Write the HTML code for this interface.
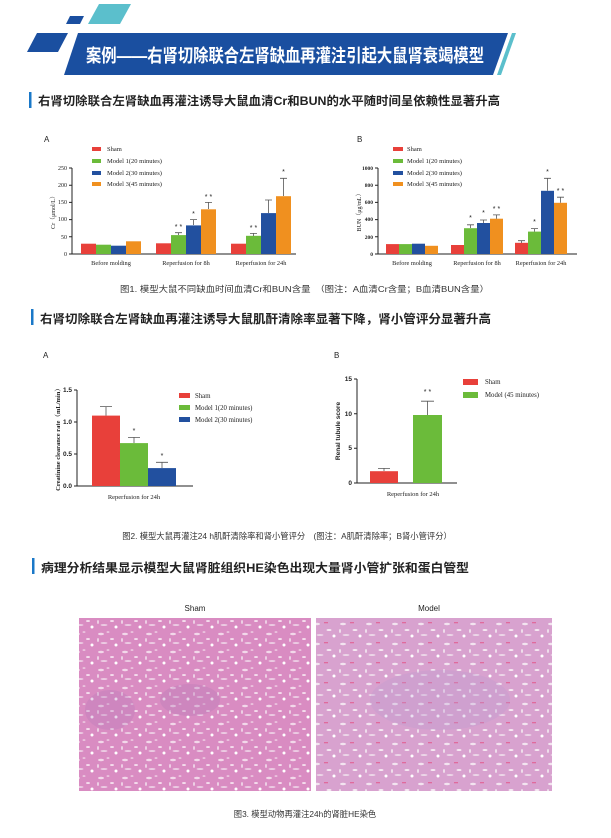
<!DOCTYPE html>
<html><head><meta charset="utf-8"><style>
body{margin:0;background:#fff;}
svg{display:block;}
text{font-family:"Liberation Sans","Noto Sans CJK SC",sans-serif;}
text.s,.s text{font-family:"Liberation Serif","Noto Serif CJK SC",serif;}
</style></head><body>
<svg width="611" height="838" viewBox="0 0 611 838" xmlns="http://www.w3.org/2000/svg">
<defs>
<pattern id="tis" width="24" height="18" patternUnits="userSpaceOnUse">
<rect width="24" height="18" fill="#d98cc2"/>
<ellipse cx="5" cy="4" rx="3" ry="1.2" fill="#f2d8ea"/>
<ellipse cx="16" cy="9" rx="2" ry="1" fill="#f4dcec"/>
<ellipse cx="8" cy="13" rx="3.5" ry="1" fill="#eccbe3"/>
<ellipse cx="20" cy="15" rx="1.5" ry="1.5" fill="#fff"/>
<ellipse cx="12" cy="2" rx="1.5" ry="0.8" fill="#f0d4e7"/>
<ellipse cx="2" cy="10" rx="1" ry="2" fill="#eed0e5"/>
</pattern>
<pattern id="tis2" width="26" height="20" patternUnits="userSpaceOnUse">
<rect width="26" height="20" fill="#d8a2cf"/>
<ellipse cx="5" cy="4" rx="3" ry="1.2" fill="#f3e4f0"/>
<ellipse cx="17" cy="10" rx="2.5" ry="1" fill="#f5e8f2"/>
<ellipse cx="8" cy="15" rx="3.5" ry="1" fill="#ecd6e8"/>
<ellipse cx="22" cy="16" rx="1.5" ry="1.5" fill="#fff"/>
<rect x="12" y="2" width="4" height="1.3" fill="#e06a9c"/>
<ellipse cx="2" cy="11" rx="1" ry="2" fill="#efdeec"/>
</pattern>
</defs>

<polygon points="88,24 99,4 131,4 120,24" fill="#5bbfcc"/>
<polygon points="66,24 70,16 84,16 80,24" fill="#1a4fa0"/>
<polygon points="27,52 37,33 68,33 58,52" fill="#1a4fa0"/>
<polygon points="64,75 78,33 508,33 493,75" fill="#1a4fa0"/>
<polygon points="497,75 512,33 516,33 501,75" fill="#5bbfcc"/>
<text x="86" y="62" font-size="18" font-weight="bold" fill="#fff" textLength="398" lengthAdjust="spacingAndGlyphs">案例——右肾切除联合左肾缺血再灌注引起大鼠肾衰竭模型</text>

<rect x="29" y="92" width="2.5" height="16" fill="#1a78c8"/>
<text x="38" y="105" font-size="12" font-weight="bold" fill="#222" textLength="462" lengthAdjust="spacingAndGlyphs">右肾切除联合左肾缺血再灌注诱导大鼠血清Cr和BUN的水平随时间呈依赖性显著升高</text>
<rect x="31" y="309" width="2.5" height="16" fill="#1a78c8"/>
<text x="40" y="323" font-size="12" font-weight="bold" fill="#222" textLength="451" lengthAdjust="spacingAndGlyphs">右肾切除联合左肾缺血再灌注诱导大鼠肌酐清除率显著下降，肾小管评分显著升高</text>
<rect x="32" y="558" width="2.5" height="16" fill="#1a78c8"/>
<text x="41" y="572" font-size="12" font-weight="bold" fill="#222" textLength="428" lengthAdjust="spacingAndGlyphs">病理分析结果显示模型大鼠肾脏组织HE染色出现大量肾小管扩张和蛋白管型</text>

<text x="44" y="142" font-size="8" fill="#222">A</text>
<g class="s" font-size="6.5" fill="#222">
<rect x="92" y="147" width="9" height="4" fill="#e8403a"/><text x="107" y="151">Sham</text>
<rect x="92" y="159" width="9" height="4" fill="#6bbb3a"/><text x="107" y="163">Model 1(20 minutes)</text>
<rect x="92" y="171" width="9" height="4" fill="#22509f"/><text x="107" y="175">Model 2(30 minutes)</text>
<rect x="92" y="182" width="9" height="4" fill="#f0901f"/><text x="107" y="186">Model 3(45 minutes)</text>
</g>
<g stroke="#222" stroke-width="1" fill="none">
<path d="M72,168 V254 H296"/>
<path d="M69,168H72M69,185.2H72M69,202.4H72M69,219.6H72M69,236.8H72M69,254H72"/>
</g>
<g font-size="6" class="s" text-anchor="end" fill="#222">
<text x="67" y="170">250</text><text x="67" y="187">200</text><text x="67" y="204">150</text><text x="67" y="221">100</text><text x="67" y="239">50</text><text x="67" y="256">0</text>
</g>
<text class="s" font-size="6" fill="#222" transform="translate(55,211) rotate(-90)" text-anchor="middle">Cr（μmol/L）</text>
<g>
<rect x="81" y="243.7" width="15" height="10.3" fill="#e8403a"/>
<rect x="96" y="244.7" width="15" height="9.3" fill="#6bbb3a"/>
<rect x="111" y="245.7" width="15" height="8.3" fill="#22509f"/>
<rect x="126" y="241.3" width="15" height="12.7" fill="#f0901f"/>
<rect x="156" y="243.3" width="15" height="10.7" fill="#e8403a"/>
<rect x="171" y="235.1" width="15" height="18.9" fill="#6bbb3a"/>
<rect x="186" y="225.4" width="15" height="28.6" fill="#22509f"/>
<rect x="201" y="209.3" width="15" height="44.7" fill="#f0901f"/>
<rect x="231" y="243.7" width="15" height="10.3" fill="#e8403a"/>
<rect x="246" y="235.8" width="15" height="18.2" fill="#6bbb3a"/>
<rect x="261" y="213.1" width="15" height="40.9" fill="#22509f"/>
<rect x="276" y="196.2" width="15" height="57.8" fill="#f0901f"/>
</g>
<g stroke="#555" stroke-width="0.8">
<path d="M178.5,235V232.7M175,232.7H182 M193.5,225V219.6M190,219.6H197 M208.5,209V202.4M205,202.4H212 M253.5,236V233.4M250,233.4H257 M268.5,213V200M265,200H272 M283.5,196V178.3M280,178.3H287"/>
</g>
<g font-size="7" fill="#222" text-anchor="middle">
<text x="178.5" y="229">* *</text><text x="193.5" y="216">*</text><text x="208.5" y="199">* *</text><text x="253.5" y="230">* *</text><text x="283.5" y="174">*</text>
</g>
<g class="s" font-size="6.3" fill="#222" text-anchor="middle">
<text x="111" y="265">Before molding</text><text x="186" y="265">Reperfusion for 8h</text><text x="261" y="265">Reperfusion for 24h</text>
</g>

<text x="357" y="142" font-size="8" fill="#222">B</text>
<g class="s" font-size="6.5" fill="#222">
<rect x="393" y="147" width="10" height="4" fill="#e8403a"/><text x="407" y="151">Sham</text>
<rect x="393" y="159" width="10" height="4" fill="#6bbb3a"/><text x="407" y="163">Model 1(20 minutes)</text>
<rect x="393" y="171" width="10" height="4" fill="#22509f"/><text x="407" y="175">Model 2(30 minutes)</text>
<rect x="393" y="182" width="10" height="4" fill="#f0901f"/><text x="407" y="186">Model 3(45 minutes)</text>
</g>
<g stroke="#222" stroke-width="1" fill="none">
<path d="M378,168 V254 H577"/>
<path d="M375,168H378M375,185.2H378M375,202.4H378M375,219.6H378M375,236.8H378M375,254H378"/>
</g>
<g font-size="5.5" class="s" font-weight="bold" text-anchor="end" fill="#222">
<text x="373" y="170">1000</text><text x="373" y="187">800</text><text x="373" y="204">600</text><text x="373" y="221">400</text><text x="373" y="239">200</text><text x="373" y="256">0</text>
</g>
<text class="s" font-size="6" fill="#222" transform="translate(361,211) rotate(-90)" text-anchor="middle">BUN（μg/mL）</text>
<g>
<rect x="386" y="244.1" width="13" height="9.9" fill="#e8403a"/>
<rect x="399" y="244.1" width="13" height="9.9" fill="#6bbb3a"/>
<rect x="412" y="243.7" width="13" height="10.3" fill="#22509f"/>
<rect x="425" y="245.8" width="13" height="8.2" fill="#f0901f"/>
<rect x="451" y="245" width="13" height="9" fill="#e8403a"/>
<rect x="464" y="228.2" width="13" height="25.8" fill="#6bbb3a"/>
<rect x="477" y="223" width="13" height="31" fill="#22509f"/>
<rect x="490" y="218.7" width="13" height="35.3" fill="#f0901f"/>
<rect x="515" y="242.8" width="13" height="11.2" fill="#e8403a"/>
<rect x="528" y="231.6" width="13" height="22.4" fill="#6bbb3a"/>
<rect x="541" y="190.8" width="13" height="63.2" fill="#22509f"/>
<rect x="554" y="202.8" width="13" height="51.2" fill="#f0901f"/>
</g>
<g stroke="#555" stroke-width="0.8">
<path d="M470.5,228V224.8M467,224.8H474 M483.5,223V220M480,220H487 M496.5,218.7V214.9M493,214.9H500 M521.5,243V240.7M518,240.7H525 M534.5,231.6V228.6M531,228.6H538 M547.5,190.8V178.3M544,178.3H551 M560.5,202.8V197.2M557,197.2H564"/>
</g>
<g font-size="7" fill="#222" text-anchor="middle">
<text x="470.5" y="220">*</text><text x="483.5" y="215">*</text><text x="496.5" y="211">* *</text><text x="534.5" y="224">*</text><text x="547.5" y="174">*</text><text x="560.5" y="193">* *</text>
</g>
<g class="s" font-size="6.3" fill="#222" text-anchor="middle">
<text x="412" y="265">Before molding</text><text x="477" y="265">Reperfusion for 8h</text><text x="541" y="265">Reperfusion for 24h</text>
</g>
<text x="120" y="292" font-size="8.3" fill="#333" textLength="369" lengthAdjust="spacingAndGlyphs">图1. 模型大鼠不同缺血时间血清Cr和BUN含量　（图注：A血清Cr含量；B血清BUN含量）</text>

<text x="43" y="358" font-size="8" fill="#222">A</text>
<g stroke="#222" stroke-width="1" fill="none">
<path d="M77,390 V486 H193"/>
<path d="M74,390H77M74,422H77M74,454H77M74,486H77"/>
</g>
<g font-size="6.5" font-weight="bold" text-anchor="end" fill="#222">
<text x="72" y="392">1.5</text><text x="72" y="424">1.0</text><text x="72" y="456">0.5</text><text x="72" y="488">0.0</text>
</g>
<text class="s" font-size="6.5" font-weight="bold" fill="#222" transform="translate(60,438) rotate(-90)" text-anchor="middle">Creatinine clearance rate（mL/min）</text>
<rect x="92" y="415.6" width="28" height="70.4" fill="#e8403a"/>
<rect x="120" y="443.1" width="28" height="42.9" fill="#6bbb3a"/>
<rect x="148" y="468.1" width="28" height="17.9" fill="#22509f"/>
<g stroke="#555" stroke-width="0.8">
<path d="M106,415.6V406.6M100,406.6H112 M134,443V437.4M128,437.4H140 M162,468V462.3M156,462.3H168"/>
</g>
<g font-size="7" fill="#222" text-anchor="middle"><text x="134" y="433">*</text><text x="162" y="458">*</text></g>
<text class="s" x="134" y="499" font-size="6.5" fill="#222" text-anchor="middle">Reperfusion for 24h</text>
<g class="s" font-size="6.8" fill="#222">
<rect x="179" y="393" width="11" height="5" fill="#e8403a"/><text x="195" y="398">Sham</text>
<rect x="179" y="405" width="11" height="5" fill="#6bbb3a"/><text x="195" y="410">Model 1(20 minutes)</text>
<rect x="179" y="417" width="11" height="5" fill="#22509f"/><text x="195" y="422">Model 2(30 minutes)</text>
</g>

<text x="334" y="358" font-size="8" fill="#222">B</text>
<g stroke="#222" stroke-width="1" fill="none">
<path d="M357,379 V483 H457"/>
<path d="M354,379H357M354,413.7H357M354,448.3H357M354,483H357"/>
</g>
<g font-size="6.5" font-weight="bold" text-anchor="end" fill="#222">
<text x="352" y="381">15</text><text x="352" y="416">10</text><text x="352" y="450">5</text><text x="352" y="485">0</text>
</g>
<text x="340" y="431" font-size="6.5" font-weight="bold" fill="#222" transform="rotate(-90 340 431)" text-anchor="middle">Renal tubule score</text>
<rect x="370" y="471.2" width="28" height="11.8" fill="#e8403a"/>
<rect x="413" y="415" width="29" height="68" fill="#6bbb3a"/>
<g stroke="#555" stroke-width="0.8">
<path d="M384,471V468.4M378,468.4H390 M427.5,415V401.2M421,401.2H434"/>
</g>
<text x="427.5" y="394" font-size="7" fill="#222" text-anchor="middle">* *</text>
<text class="s" x="413" y="496" font-size="6.5" fill="#222" text-anchor="middle">Reperfusion for 24h</text>
<g class="s" font-size="6.8" fill="#222">
<rect x="463" y="379" width="15" height="6" fill="#e8403a"/><text x="485" y="384">Sham</text>
<rect x="463" y="392" width="15" height="6" fill="#6bbb3a"/><text x="485" y="397">Model (45 minutes)</text>
</g>
<text x="287" y="539" font-size="8.3" fill="#333" text-anchor="middle">图2. 模型大鼠再灌注24 h肌酐清除率和肾小管评分　(图注：A肌酐清除率；B肾小管评分）</text>

<text x="195" y="611" font-size="8" fill="#222" text-anchor="middle">Sham</text>
<text x="429" y="611" font-size="8" fill="#222" text-anchor="middle">Model</text>
<rect x="79" y="618" width="232" height="173" fill="url(#tis)"/>
<ellipse cx="190" cy="700" rx="30" ry="16" fill="#b77ab8" opacity="0.35"/>
<ellipse cx="110" cy="710" rx="25" ry="20" fill="#b77ab8" opacity="0.3"/>
<rect x="316" y="618" width="236" height="173" fill="url(#tis2)"/>
<ellipse cx="440" cy="700" rx="70" ry="30" fill="#b99ad0" opacity="0.3"/>
<text x="305" y="817" font-size="8.3" fill="#333" text-anchor="middle">图3. 模型动物再灌注24h的肾脏HE染色</text>
</svg>
</body></html>
